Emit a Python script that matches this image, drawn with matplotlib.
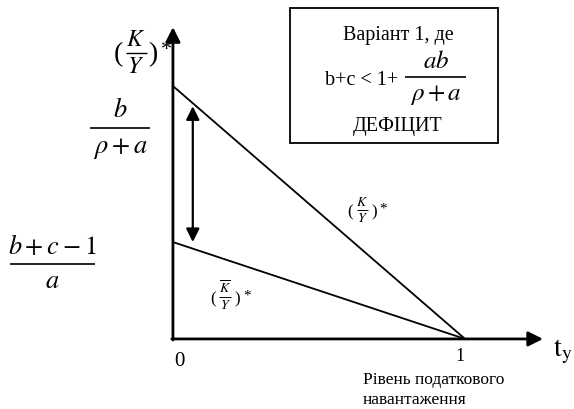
import matplotlib
matplotlib.use('Agg')
import matplotlib.pyplot as plt
from matplotlib.patches import Rectangle

plt.rcParams['font.family'] = ['Liberation Serif', 'DejaVu Serif']
plt.rcParams['mathtext.fontset'] = 'stix'

# lines of the diagram (x = tax burden, y = K/Y)
t = [0, 1]
ky_upper = [1.0, 0.0]      # (K/Y)*, starts at b/(rho+a)
ky_lower = [0.383, 0.0]    # (K bar/Y)*, starts at (b+c-1)/a
gap_x = 0.068              # position of the double arrow
x_max, y_max = 1.267, 1.233

fig = plt.figure(figsize=(5.74, 4.10), dpi=100)
ax = fig.add_axes([0, 0, 1, 1])
ax.set_xlim(-0.592, 1.373)
ax.set_ylim(-0.277, 1.344)
ax.axis('off')


def P(px, py):
    # pixel position in the picture -> data coords (for placing labels)
    return (px - 173) / 292, (340 - py) / 253


def frac(xc, ybar, x0, x1, num, den, fs, gap=5, lw=1.2):
    xa, ya = P(x0, ybar)
    xb, _ = P(x1, ybar)
    ax.plot([xa, xb], [ya, ya], color='black', lw=lw, solid_capstyle='butt')
    ax.text(*P(xc, ybar - gap), num, fontsize=fs, ha='center', va='bottom')
    ax.text(*P(xc, ybar + gap), den, fontsize=fs, ha='center', va='top')


# axes with arrow heads
ax.annotate('', xy=(0, y_max), xytext=(0, -0.004),
            arrowprops=dict(arrowstyle='-|>', lw=2, color='black',
                            mutation_scale=22, shrinkA=0, shrinkB=0))
ax.annotate('', xy=(x_max, 0), xytext=(-0.004, 0),
            arrowprops=dict(arrowstyle='-|>', lw=2, color='black',
                            mutation_scale=22, shrinkA=0, shrinkB=0))

ax.plot(t, ky_upper, color='black', lw=1.3)
ax.plot(t, ky_lower, color='black', lw=1.3)

ax.annotate('', xy=(gap_x, ky_upper[0] - 0.08), xytext=(gap_x, ky_lower[0]),
            arrowprops=dict(arrowstyle='<|-|>', lw=1.6, color='black',
                            mutation_scale=20, shrinkA=0, shrinkB=0))

# (K/Y)* at the top of the y axis
ax.text(*P(118, 55), '(', fontsize=20, ha='center', va='center')
frac(136, 54, 126, 147, r'$K$', r'$Y$', 17, gap=3, lw=1.0)
ax.text(*P(153, 55), ')', fontsize=20, ha='center', va='center')
ax.text(*P(167, 50), '*', fontsize=16, ha='center', va='center')

# intercept labels
frac(120, 129, 90, 150, r'$b$', r'$\rho+a$', 19, gap=7)
frac(52, 265, 10, 95, r'$b+c-1$', r'$a$', 19, gap=6)

# line labels
ax.text(*P(350, 212), '(', fontsize=12, ha='center', va='center')
frac(362, 211, 357, 368, r'$K$', r'$Y$', 10, gap=1.5, lw=0.7)
ax.text(*P(374, 212), ')', fontsize=12, ha='center', va='center')
ax.text(*P(383, 209), '*', fontsize=11, ha='center', va='center')

ax.text(*P(213, 299), '(', fontsize=12, ha='center', va='center')
frac(225, 298, 219, 231, r'$\overline{K}$', r'$Y$', 10, gap=1.5, lw=0.7)
ax.text(*P(237, 299), ')', fontsize=12, ha='center', va='center')
ax.text(*P(247, 296), '*', fontsize=11, ha='center', va='center')

# ticks
ax.text(*P(180, 362), '0', fontsize=15, ha='center', va='center')
ax.text(*P(460, 357), '1', fontsize=13, ha='center', va='center')
ax.text(*P(563, 352), r'$\mathrm{t_y}$', fontsize=20, ha='center', va='center')
ax.text(*P(363, 380), 'Рівень податкового', fontsize=12.5,
        ha='left', va='center')
ax.text(*P(363, 400), 'навантаження', fontsize=12.5,
        ha='left', va='center')

# info box
bx0, by0 = P(290, 144)
bx1, by1 = P(498, 9)
ax.add_patch(Rectangle((bx0, by0), bx1 - bx0, by1 - by0, fill=False,
                       edgecolor='black', lw=1.3))
ax.text(*P(398, 35), 'Варіант 1, де', fontsize=14.5, ha='center', va='center')
ax.text(*P(362, 80), 'b+c < 1+', fontsize=14.5, ha='center', va='center')
frac(436, 78, 405, 466, r'$ab$', r'$\rho+a$', 18, gap=5)
ax.text(*P(398, 127), 'ДЕФІЦИТ', fontsize=14.5, ha='center', va='center')

fig.savefig('out.png', dpi=100)
